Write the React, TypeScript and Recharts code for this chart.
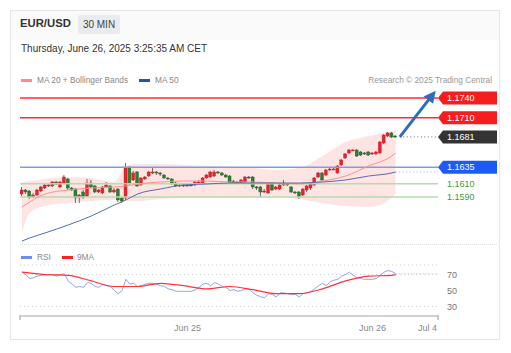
import React from "react";
import {
  ComposedChart,
  LineChart,
  Bar,
  Line,
  Area,
  XAxis,
  YAxis,
  ReferenceLine,
  CartesianGrid,
} from "recharts";

const FONT = "'Liberation Sans', Arial, Helvetica, sans-serif";

// EUR/USD 30 min candles, Jun 24 02:30 -> Jun 26 03:00
const opens = [
  1.15945, 1.16006, 1.15991, 1.159, 1.1593, 1.15991, 1.16036, 1.16082, 1.16067, 1.16127,
  1.16052, 1.16112, 1.16173, 1.16036, 1.16021, 1.159, 1.15976, 1.15915, 1.16112, 1.16067,
  1.15976, 1.15961, 1.16052, 1.16067, 1.15976, 1.16021, 1.15885, 1.15885, 1.16339, 1.16158,
  1.16279, 1.16082, 1.16173, 1.16218, 1.16264, 1.16279, 1.16264, 1.16233, 1.16188, 1.16173,
  1.16112, 1.16067, 1.16082, 1.16067, 1.16082, 1.16082, 1.16112, 1.16112, 1.16188, 1.16203,
  1.16218, 1.16279, 1.16264, 1.16233, 1.16218, 1.16142, 1.16112, 1.16112, 1.16127, 1.16203,
  1.16203, 1.16052, 1.16052, 1.15976, 1.15961, 1.16112, 1.16021, 1.16021, 1.16082, 1.16097,
  1.16052, 1.15976, 1.15976, 1.1593, 1.16006, 1.16036, 1.16082, 1.16203, 1.16264, 1.16233,
  1.16309, 1.16309, 1.16264, 1.16385, 1.16491, 1.16567, 1.16597, 1.16612, 1.16582, 1.16552,
  1.16582, 1.16552, 1.16552, 1.16567, 1.16718, 1.16824, 1.1687, 1.16824,
];
const highs = [
  1.16052, 1.16021, 1.16006, 1.15961, 1.16021, 1.16067, 1.16097, 1.16097, 1.16142, 1.16142,
  1.16142, 1.16233, 1.16188, 1.16052, 1.16036, 1.15945, 1.16006, 1.16173, 1.16158, 1.16082,
  1.16021, 1.16067, 1.16127, 1.16082, 1.16036, 1.16036, 1.159, 1.16415, 1.1637, 1.16294,
  1.16294, 1.16203, 1.16218, 1.16294, 1.16339, 1.16294, 1.16279, 1.16248, 1.16203, 1.16188,
  1.16127, 1.16112, 1.16097, 1.16097, 1.16097, 1.16142, 1.16158, 1.16203, 1.16248, 1.16294,
  1.16309, 1.16294, 1.16279, 1.16248, 1.16233, 1.16158, 1.16142, 1.16173, 1.16218, 1.16218,
  1.16218, 1.16067, 1.16067, 1.16021, 1.16127, 1.16127, 1.16067, 1.16097, 1.16158, 1.16112,
  1.16067, 1.15991, 1.15991, 1.16036, 1.16082, 1.16127, 1.16203, 1.16279, 1.16279, 1.16324,
  1.16339, 1.16339, 1.16385, 1.16476, 1.16567, 1.16627, 1.16627, 1.16627, 1.16597, 1.16582,
  1.16597, 1.16582, 1.16597, 1.16748, 1.16855, 1.16885, 1.16885, 1.16839,
];
const lows = [
  1.15915, 1.15945, 1.1587, 1.15885, 1.15915, 1.15976, 1.16021, 1.16052, 1.16052, 1.16082,
  1.16036, 1.16097, 1.16006, 1.15991, 1.15809, 1.15809, 1.1587, 1.159, 1.16036, 1.15961,
  1.15961, 1.15945, 1.16036, 1.15961, 1.15961, 1.15824, 1.15809, 1.15855, 1.16082, 1.16142,
  1.16052, 1.16067, 1.16158, 1.16203, 1.16248, 1.16233, 1.16218, 1.16173, 1.16158, 1.16082,
  1.16052, 1.16052, 1.16052, 1.16052, 1.16067, 1.16067, 1.16097, 1.16097, 1.16173, 1.16188,
  1.16203, 1.16248, 1.16218, 1.16188, 1.16112, 1.16097, 1.16112, 1.16097, 1.16112, 1.16173,
  1.16021, 1.16006, 1.159, 1.15961, 1.15945, 1.15991, 1.16006, 1.16006, 1.16067, 1.16067,
  1.15961, 1.15945, 1.1587, 1.15915, 1.15976, 1.16006, 1.16067, 1.16188, 1.16142, 1.16218,
  1.16294, 1.16309, 1.16248, 1.1637, 1.16476, 1.16552, 1.16597, 1.16506, 1.16521, 1.16536,
  1.16521, 1.16536, 1.16536, 1.16552, 1.16703, 1.16809, 1.16794, 1.16794,
];
const closes = [
  1.16006, 1.15976, 1.159, 1.1593, 1.16006, 1.16052, 1.16082, 1.16067, 1.16127, 1.16097,
  1.16127, 1.16203, 1.16036, 1.16006, 1.15885, 1.1593, 1.159, 1.16112, 1.16052, 1.15976,
  1.16006, 1.16052, 1.16082, 1.15976, 1.16006, 1.15855, 1.15839, 1.16339, 1.16112, 1.16264,
  1.16067, 1.16188, 1.16203, 1.16279, 1.16279, 1.16264, 1.16248, 1.16188, 1.16173, 1.16112,
  1.16067, 1.16082, 1.16067, 1.16082, 1.16067, 1.16127, 1.16127, 1.16188, 1.16233, 1.16279,
  1.16279, 1.16264, 1.16233, 1.16203, 1.16127, 1.16112, 1.16127, 1.16158, 1.16203, 1.16188,
  1.16052, 1.16036, 1.15976, 1.15991, 1.16112, 1.16006, 1.16052, 1.16082, 1.16112, 1.16082,
  1.15976, 1.15961, 1.159, 1.16021, 1.16067, 1.16112, 1.16188, 1.16264, 1.16158, 1.16309,
  1.16324, 1.16324, 1.1637, 1.16461, 1.16552, 1.16612, 1.16612, 1.16521, 1.16536, 1.16567,
  1.16536, 1.16567, 1.16582, 1.16733, 1.16839, 1.1687, 1.16809, 1.16809,
];

// indicator readings, taken at these candles
const bandIdx = [0, 2, 6, 12, 18, 24, 27, 30, 36, 42, 48, 54, 60, 66, 72, 78, 84, 90, 96, 97];
const bbUpper = [
  1.16127, 1.16142, 1.16173, 1.16203, 1.16188, 1.16127, 1.1637, 1.164, 1.164, 1.16385,
  1.1637, 1.16355, 1.16339, 1.16309, 1.16339, 1.16521, 1.16733, 1.16824, 1.169, 1.16915,
];
const bbLower = [
  1.15355, 1.15658, 1.15764, 1.15809, 1.15839, 1.15855, 1.15839, 1.15839, 1.1587, 1.15885,
  1.15885, 1.15885, 1.15885, 1.159, 1.1587, 1.15809, 1.15764, 1.15748, 1.15885, 1.15961,
];
const ma20 = [
  1.15748, 1.15824, 1.15945, 1.16006, 1.16036, 1.16052, 1.16067, 1.16097, 1.16127, 1.16142,
  1.16142, 1.16127, 1.16127, 1.16112, 1.16097, 1.16142, 1.16218, 1.1637, 1.16521, 1.16567,
];
const ma50 = [
  1.15233, 1.15279, 1.15355, 1.15476, 1.15612, 1.15779, 1.15855, 1.15945, 1.16021, 1.16082,
  1.16097, 1.16112, 1.16112, 1.16112, 1.16112, 1.16127, 1.16158, 1.16218, 1.16264, 1.16279,
];

const rsi = [
  73, 70, 65, 66, 68, 69, 70, 70, 70, 68,
  70, 71, 62, 58, 54, 55, 54, 60, 59, 55,
  54, 58, 56, 55, 50, 46, 50, 64, 58, 59,
  55, 56, 58, 59, 59, 58, 56, 55, 52, 51,
  49, 49, 49, 49, 49, 51, 54, 58, 59, 56,
  60, 58, 55, 54, 50, 51, 49, 50, 52, 52,
  47, 44, 42, 41, 46, 45, 42, 47, 47, 46,
  45, 45, 42, 46, 47, 49, 52, 56, 59, 56,
  61, 63, 64, 68, 70, 73, 69, 66, 65, 64,
  64, 64, 65, 69, 73, 75, 74, 71,
];
const maIdx = [0, 6, 12, 18, 24, 30, 36, 42, 48, 54, 60, 66, 72, 78, 84, 90, 96, 97];
const rsiMa = [73, 70, 69, 62, 55, 55, 59, 56, 52, 55, 51, 46, 46, 52, 62, 68, 69, 70];

const levels = [1.174, 1.171, 1.1681, 1.1635, 1.161, 1.159];
const levelKinds = ["res", "res", "last", "piv", "sup", "sup"];

const arrowFrom = { i: 98.1, p: 1.1681 };
const arrowTo = { i: 107.4, p: 1.17511 };

const tickPos = [-0.5, 43, 91, 108];
const tickLabels = ["", "Jun 25", "Jun 26", "Jul 4"];

const candleData: any[] = opens.map((o, i) => ({
  i,
  o,
  h: highs[i],
  l: lows[i],
  c: closes[i],
  hl: [lows[i], highs[i]],
}));
bandIdx.forEach((k, j) => {
  candleData[k].bb = [bbLower[j], bbUpper[j]];
  candleData[k].m20 = ma20[j];
  candleData[k].m50 = ma50[j];
});

const rsiData: any[] = rsi.map((v, i) => ({ i, rsi: v }));
maIdx.forEach((k, j) => {
  rsiData[k].ma = rsiMa[j];
});

const Candle = (props: any) => {
  const { x, y, width, height, payload } = props;
  if (x == null || y == null) return null;
  const top = Math.min(y, y + height);
  const hgt = Math.abs(height);
  const { o, h, l, c } = payload;
  const ratio = hgt / (h - l);
  const up = c >= o;
  const bodyTop = top + (h - Math.max(o, c)) * ratio;
  const bodyH = Math.max(1, Math.abs(o - c) * ratio);
  const cx = x + width / 2;
  return (
    <g>
      <line x1={cx} x2={cx} y1={top} y2={top + hgt} stroke="#4a4a4a" strokeWidth={0.8} />
      <rect
        x={x}
        y={bodyTop}
        width={width}
        height={bodyH}
        fill={up ? "#e8232b" : "#2e7d32"}
        stroke={up ? "#c81e25" : "#255f28"}
        strokeWidth={0.4}
      />
    </g>
  );
};

const boxColor: any = { res: "#f51d1d", last: "#333333", piv: "#1c5cf5" };
const lineColor: any = { res: "#ff2b2b", piv: "#7b9bf2", sup: "#b4dcae" };

const levelShape = (kind: string, value: number) => (p: any) => {
  const { x1, y1, x2, y2 } = p;
  const tx = x2;
  return (
    <g>
      {kind === "last" ? (
        <line x1={x1} y1={y1} x2={x2} y2={y2} stroke="#666" strokeWidth={1} strokeDasharray="1 2.5" />
      ) : (
        <line x1={x1} y1={y1} x2={x2} y2={y2} stroke={lineColor[kind]} strokeWidth={1.6} />
      )}
      {kind === "sup" ? (
        <text x={tx + 9} y={y1} dy="0.35em" fill="#3d9a3d" fontSize={9}>
          {value.toFixed(4)}
        </text>
      ) : (
        <g>
          <path
            d={`M${tx},${y1} L${tx + 5},${y1 - 6.5} H${tx + 59} V${y1 + 6.5} H${tx + 5} Z`}
            fill={boxColor[kind]}
          />
          <text x={tx + 9} y={y1} dy="0.35em" fill="#fff" fontSize={9}>
            {value.toFixed(4)}
          </text>
        </g>
      )}
    </g>
  );
};

const Arrow = (p: any) => {
  const { x1, y1, x2, y2 } = p;
  const dx = x2 - x1;
  const dy = y2 - y1;
  const len = Math.hypot(dx, dy) || 1;
  const ux = dx / len;
  const uy = dy / len;
  const hl = 12;
  const hw = 6;
  const bx = x2 - ux * hl;
  const by = y2 - uy * hl;
  return (
    <g>
      <line x1={x1} y1={y1} x2={bx + ux * 2} y2={by + uy * 2} stroke="#2f6db5" strokeWidth={3} />
      <polygon
        points={`${x2},${y2} ${bx - uy * hw},${by + ux * hw} ${bx + uy * hw},${by - ux * hw}`}
        fill="#2f6db5"
      />
    </g>
  );
};

const TimeTick = (p: any) => {
  const { x, y, payload } = p;
  const k = tickPos.indexOf(payload.value);
  const last = k === tickPos.length - 1;
  const isEnd = k === 0 || last;
  return (
    <g>
      {isEnd && <line x1={x} x2={x} y1={y - 1} y2={y + 4} stroke="#bbb" strokeWidth={1.5} />}
      {tickLabels[k] && (
        <text x={last ? x - 1 : x} y={y + 14.5} textAnchor={last ? "end" : "middle"} fill="#888" fontSize={9}>
          {tickLabels[k]}
        </text>
      )}
    </g>
  );
};

const legendText = { fontSize: 8.3, color: "#888" };

export default function App() {
  return (
    <div style={{ position: "relative", width: 495, height: 340, fontFamily: FONT }}>
      {/* card */}
      <div
        style={{
          position: "absolute",
          left: 2,
          top: 2,
          width: 490,
          height: 330,
          border: "1px solid #e6e6e6",
          boxSizing: "border-box",
          background: "#fff",
        }}
      >
        <div style={{ height: 29, background: "#fafafa" }} />
      </div>

      <div style={{ position: "absolute", left: 12, top: 8, fontSize: 11.3, fontWeight: "bold", lineHeight: "14px", color: "#333" }}>
        EUR/USD
      </div>
      <div
        style={{
          position: "absolute",
          left: 70,
          top: 7,
          width: 42,
          height: 19,
          background: "#e9ebee",
          borderRadius: 2,
          fontSize: 10,
          lineHeight: "19px",
          textAlign: "center",
          color: "#444",
        }}
      >
        30 MIN
      </div>
      <div style={{ position: "absolute", left: 13, top: 35, fontSize: 10, lineHeight: "12px", color: "#333" }}>
        Thursday, June 26, 2025 3:25:35 AM CET
      </div>

      {/* legend */}
      <div style={{ position: "absolute", left: 13, top: 70.5, width: 11, height: 3.5, background: "#ff8a8a" }} />
      <div style={{ position: "absolute", left: 29, top: 67, lineHeight: "10px", ...legendText }}>
        MA 20 + Bollinger Bands
      </div>
      <div style={{ position: "absolute", left: 131, top: 70.5, width: 11, height: 3.5, background: "#2c5597" }} />
      <div style={{ position: "absolute", left: 147, top: 67, lineHeight: "10px", ...legendText }}>MA 50</div>
      <div style={{ position: "absolute", right: 11, top: 67, lineHeight: "10px", fontSize: 8.3, color: "#999" }}>
        Research © 2025 Trading Central
      </div>

      {/* price panel */}
      <div style={{ position: "absolute", left: 2, top: 72 }}>
        <ComposedChart
          width={490}
          height={164}
          data={candleData}
          margin={{ top: 10, right: 62, bottom: 0, left: 10 }}
        >
          <XAxis dataKey="i" type="number" domain={[-0.5, 108]} allowDataOverflow hide height={0} />
          <YAxis type="number" domain={[1.15188, 1.17521]} allowDataOverflow hide width={0} />
          <Area
            dataKey="bb"
            type="monotone"
            connectNulls
            stroke="none"
            fill="#ffb3b3"
            fillOpacity={0.35}
            isAnimationActive={false}
          />
          {levels.map((v, k) =>
            levelKinds[k] === "last" ? (
              <ReferenceLine
                key={v}
                segment={[
                  { x: arrowFrom.i, y: v },
                  { x: 108, y: v },
                ]}
                ifOverflow="visible"
                shape={levelShape(levelKinds[k], v)}
              />
            ) : (
              <ReferenceLine key={v} y={v} ifOverflow="visible" shape={levelShape(levelKinds[k], v)} />
            )
          )}
          <ReferenceLine
            segment={[
              { x: 97, y: ma50[ma50.length - 1] },
              { x: 108, y: ma50[ma50.length - 1] },
            ]}
            ifOverflow="visible"
            stroke="#9db4ef"
            strokeDasharray="1 2.5"
          />
          <Line dataKey="m20" type="monotone" connectNulls dot={false} stroke="#ff8f8f" strokeWidth={1} isAnimationActive={false} />
          <Line dataKey="m50" type="monotone" connectNulls dot={false} stroke="#4f6fae" strokeWidth={1} isAnimationActive={false} />
          <Bar dataKey="hl" barSize={3} shape={<Candle />} isAnimationActive={false} />
          <ReferenceLine
            segment={[
              { x: arrowFrom.i, y: arrowFrom.p },
              { x: arrowTo.i, y: arrowTo.p },
            ]}
            ifOverflow="visible"
            shape={Arrow}
          />
        </ComposedChart>
      </div>

      <div style={{ position: "absolute", left: 12, top: 236, width: 477, borderTop: "1px dotted #e0e0e0" }} />

      {/* RSI legend */}
      <div style={{ position: "absolute", left: 13, top: 247.5, width: 11, height: 3.5, background: "#6f8fe8" }} />
      <div style={{ position: "absolute", left: 29, top: 244, lineHeight: "10px", ...legendText }}>RSI</div>
      <div style={{ position: "absolute", left: 54, top: 247.5, width: 11, height: 3.5, background: "#ff2020" }} />
      <div style={{ position: "absolute", left: 69, top: 244, lineHeight: "10px", ...legendText }}>9MA</div>

      {/* RSI panel */}
      <div style={{ position: "absolute", left: 2, top: 247 }}>
        <LineChart width={490} height={85} data={rsiData} margin={{ top: 10, right: 0, bottom: 0, left: 10 }}>
          <CartesianGrid vertical={false} stroke="#cfcfcf" strokeDasharray="1 3" />
          <XAxis
            dataKey="i"
            type="number"
            domain={[-0.5, 108]}
            allowDataOverflow
            ticks={tickPos}
            interval={0}
            height={24}
            tickSize={0}
            tickMargin={0}
            tickLine={false}
            axisLine={{ stroke: "#c4c4c4", strokeWidth: 1.5 }}
            tick={<TimeTick />}
          />
          <YAxis
            orientation="right"
            type="number"
            domain={[18, 82]}
            ticks={[30, 50, 70]}
            width={62}
            tickSize={0}
            tickMargin={9}
            tickLine={false}
            axisLine={false}
            tick={{ fontSize: 9, fill: "#777" }}
          />
          <ReferenceLine
            segment={[
              { x: 97, y: rsi[rsi.length - 1] },
              { x: 108, y: rsi[rsi.length - 1] },
            ]}
            ifOverflow="visible"
            stroke="#a9bbf2"
            strokeDasharray="1 2"
          />
          <Line dataKey="rsi" dot={false} stroke="#8ea5ee" strokeWidth={1} isAnimationActive={false} />
          <Line dataKey="ma" type="monotone" connectNulls dot={false} stroke="#ff3535" strokeWidth={1.2} isAnimationActive={false} />
        </LineChart>
      </div>
    </div>
  );
}
